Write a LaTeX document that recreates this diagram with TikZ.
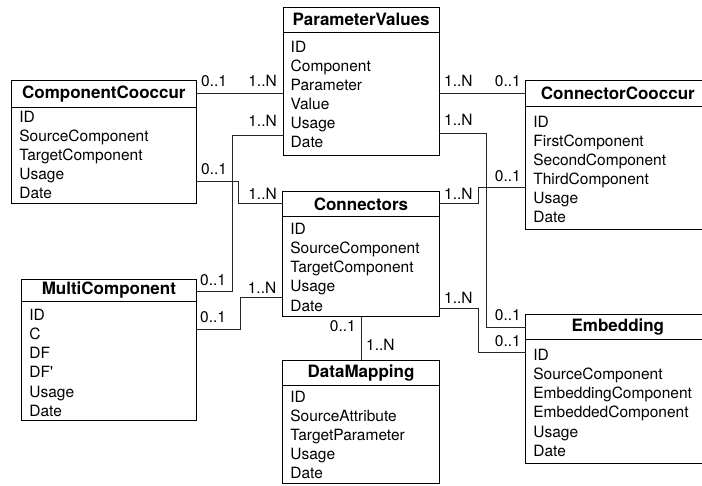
\documentclass[tikz,border=0pt]{standalone}
\usepackage{fontspec}
\setmainfont{TeX Gyre Heros}
\usetikzlibrary{calc}
\tikzset{
  tbl/.style={draw=black, line width=0.9pt, anchor=north west, inner sep=0pt, outer sep=0pt},
  boxline/.style={draw=black, line width=0.9pt},
  ttl/.style={font=\bfseries\fontsize{17}{20}\selectfont, inner sep=0pt},
  rowtxt/.style={font=\fontsize{15.5}{19}\selectfont, anchor=base west, inner sep=0pt},
  card/.style={font=\fontsize{15.5}{19}\selectfont, inner sep=0pt},
  rel/.style={draw=black!85, line width=0.9pt}
}
% #1 name, #2 x, #3 y, #4 width, #5 height, #6 header height, #7 title, #8 first baseline offset, #9 rows
\newcommand\erbox[9]{%
  \node[tbl, minimum width=#4pt, minimum height=#5pt] (#1) at (#2,#3) {};
  \draw[boxline] ([yshift=-#6pt]#1.north west) -- ([yshift=-#6pt]#1.north east);
  \node[ttl] (#1-t) at ($(#1.north)+(0,#6/2)$) {#7};
  \foreach \r [count=\i] in {#9}
    \node[rowtxt] (#1-\i) at ($(#1.north west)+(7.5,{#8+19.1*(\i-1)})$) {\r};
}
\begin{document}
\begin{tikzpicture}[x=1pt,y=-1pt]
\useasboundingbox (0,0) rectangle (702,485);
\clip (0,0) rectangle (702,485);

\erbox{pv}{283}{7}{156.3}{148.7}{25.3}{ParameterValues}{45.3}{ID,Component,Parameter,Value,Usage,Date}
\erbox{cc}{11.7}{80}{184.3}{123.7}{27.3}{ComponentCooccur}{42.3}{ID,SourceComponent,TargetComponent,Usage,Date}
\erbox{connc}{525.7}{80}{184.3}{149.3}{26}{ConnectorCooccur}{47.3}{ID,FirstComponent,SecondComponent,ThirdComponent,Usage,Date}
\erbox{con}{282.7}{191.7}{156.6}{125}{25}{Connectors}{42.9}{ID,SourceComponent,TargetComponent,Usage,Date}
\erbox{mc}{21.7}{279.3}{174.3}{140.7}{22.4}{MultiComponent}{41.3}{ID,C,DF,DF\textquotesingle,Usage,Date}
\erbox{dm}{282.7}{360}{156.6}{123.3}{25.7}{DataMapping}{42.3}{ID,SourceAttribute,TargetParameter,Usage,Date}
\erbox{emb}{525.7}{314.3}{184.3}{149}{25}{Embedding}{46.3}{ID,SourceComponent,EmbeddingComponent,EmbeddedComponent,Usage,Date}

% connectors
\draw[rel] (cc.east |- 0,93.4) -- (pv.west |- 0,93.4);
\draw[rel] (pv.west |- 0,135) -- (232.7,135) -- (232.7,291.7) -- (mc.east |- 0,291.7);
\draw[rel] (cc.east |- 0,181) -- (238.5,181) -- (238.5,203.5) -- (con.west |- 0,203.5);
\draw[rel] (mc.east |- 0,329) -- (240.7,329) -- (240.7,297) -- (con.west |- 0,297);
\draw[rel] (pv.east |- 0,93.3) -- (connc.west |- 0,93.3);
\draw[rel] (pv.east |- 0,133.5) -- (486.5,133.5) -- (486.5,327) -- (emb.west |- 0,327);
\draw[rel] (con.east |- 0,203.5) -- (478.3,203.5) -- (478.3,187.3) -- (connc.west |- 0,187.3);
\draw[rel] (con.east |- 0,308.3) -- (478.3,308.3) -- (478.3,352.7) -- (emb.west |- 0,352.7);
\draw[rel] (con.south) -- (dm.north);

% cardinalities
\node[card, anchor=base west] (c1a) at (201,86.7) {0..1};
\node[card, anchor=base east] (c1b) at (277,86.7) {1..N};
\node[card, anchor=base east] (c2a) at (277,126) {1..N};
\node[card, anchor=base west] (c2b) at (200,285) {0..1};
\node[card, anchor=base west] (c3a) at (201,174.3) {0..1};
\node[card, anchor=base east] (c3b) at (277,199) {1..N};
\node[card, anchor=base west] (c4a) at (200,322.7) {0..1};
\node[card, anchor=base east] (c4b) at (276.5,293.3) {1..N};
\node[card, anchor=base west] (c5a) at (444,86.7) {1..N};
\node[card, anchor=base east] (c5b) at (521,86.7) {0..1};
\node[card, anchor=base west] (c6a) at (444,125.7) {1..N};
\node[card, anchor=base east] (c6b) at (521,320) {0..1};
\node[card, anchor=base east] (c7a) at (521,181) {0..1};
\node[card, anchor=base west] (c7b) at (444,199) {1..N};
\node[card, anchor=base west] (c8a) at (444,303.3) {1..N};
\node[card, anchor=base east] (c8b) at (521,346) {0..1};
\node[card, anchor=base east] (c9a) at (356,331) {0..1};
\node[card, anchor=base west] (c9b) at (366,350) {1..N};
\end{tikzpicture}
\end{document}
